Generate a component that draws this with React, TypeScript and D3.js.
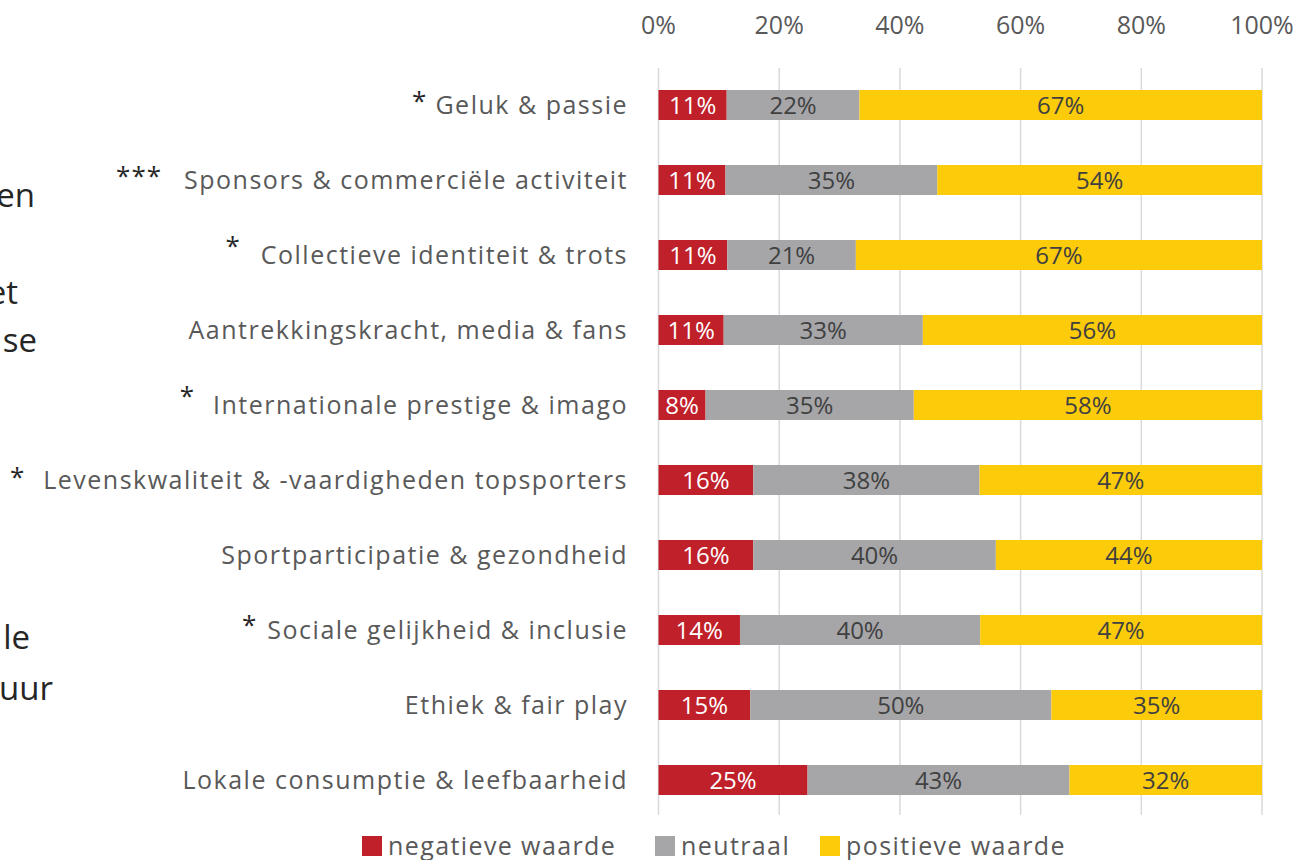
import { useEffect, useRef } from 'react';
import * as d3 from 'd3';

const categories = [
  'Geluk & passie',
  'Sponsors & commerciële activiteit',
  'Collectieve identiteit & trots',
  'Aantrekkingskracht, media & fans',
  'Internationale prestige & imago',
  'Levenskwaliteit & -vaardigheden topsporters',
  'Sportparticipatie & gezondheid',
  'Sociale gelijkheid & inclusie',
  'Ethiek & fair play',
  'Lokale consumptie & leefbaarheid',
];
const significance = ['*', '***', '*', '', '*', '*', '', '*', '', ''];
const negative = [11.3, 11.1, 11.4, 10.8, 7.8, 15.7, 15.7, 13.5, 15.2, 24.7];
const neutral = [22.0, 35.1, 21.3, 33.0, 34.5, 37.5, 40.2, 39.8, 49.9, 43.4];
const positive = [66.7, 53.8, 67.3, 56.2, 57.7, 46.8, 44.1, 46.7, 34.9, 31.9];
const seriesNames = ['negatieve waarde', 'neutraal', 'positieve waarde'];
const seriesColors = ['#c0202a', '#a6a6a9', '#fccb0a'];
const labelColors = ['#ffffff', '#404040', '#404040'];
const xTicks = [0, 20, 40, 60, 80, 100];
// cut-off words of a text panel on the left of the slide
const sideWords = [
  { text: 'en', x: 35, y: 195 },
  { text: 'et', x: 18, y: 292 },
  { text: 'se', x: 37, y: 340 },
  { text: 'le', x: 30, y: 637 },
  { text: 'uur', x: 53, y: 688 },
];
// asterisk placement (gap to label, raise) as set in the slide
const starGap = [8, 22, 20, 0, 18, 18, 0, 10, 0, 0];
const starRaise = [4, 4, 9, 0, 9, 3, 0, 5, 0, 0];

const W = 1301;
const H = 860;
const FONT = '"Open Sans", "Noto Sans", sans-serif';

export default function App() {
  const svgRef = useRef<SVGSVGElement | null>(null);

  useEffect(() => {
    const svg = d3.select(svgRef.current);
    svg.selectAll('*').remove();

    const x = d3.scaleLinear().domain([0, 100]).range([658.5, 1262]);
    const y = d3.scaleBand<string>()
      .domain(categories)
      .range([67.5, 817.5])
      .paddingInner(0.6)
      .paddingOuter(0.3);
    const cy = (c: string) => y(c)! + y.bandwidth() / 2;

    const rows = categories.map((c, i) => ({
      category: c,
      values: [negative[i], neutral[i], positive[i]],
    }));

    // grid
    svg.append('g')
      .selectAll('line')
      .data(xTicks)
      .enter()
      .append('line')
      .attr('x1', d => x(d))
      .attr('x2', d => x(d))
      .attr('y1', 68)
      .attr('y2', 815)
      .attr('stroke', '#d9d9d9')
      .attr('stroke-width', 1.5);

    // top axis labels
    svg.append('g')
      .selectAll('text')
      .data(xTicks)
      .enter()
      .append('text')
      .attr('x', d => x(d))
      .attr('y', 25)
      .attr('dy', '0.35em')
      .attr('text-anchor', 'middle')
      .attr('fill', '#595959')
      .style('font-size', '25px')
      .text(d => `${d}%`);

    // bars
    rows.forEach(row => {
      let acc = 0;
      const g = svg.append('g');
      row.values.forEach((v, si) => {
        const x0 = x(acc);
        const x1 = x(acc + v);
        acc += v;
        g.append('rect')
          .attr('x', x0)
          .attr('y', y(row.category)!)
          .attr('width', x1 - x0)
          .attr('height', y.bandwidth())
          .attr('fill', seriesColors[si]);
        g.append('text')
          .attr('x', (x0 + x1) / 2)
          .attr('y', cy(row.category))
          .attr('dy', '0.36em')
          .attr('text-anchor', 'middle')
          .attr('fill', labelColors[si])
          .style('font-size', '24px')
          .text(`${Math.round(v)}%`);
      });
    });

    // category labels
    const labelX = 628;
    svg.append('g')
      .selectAll('text')
      .data(categories)
      .enter()
      .append('text')
      .attr('x', labelX)
      .attr('y', d => cy(d))
      .attr('dy', '0.36em')
      .attr('text-anchor', 'end')
      .attr('fill', '#595959')
      .style('font-size', '25px')
      .style('letter-spacing', '1.5px')
      .text(d => d)
      .each(function (d, i) {
        if (!significance[i]) return;
        const len = (this as SVGTextElement).getComputedTextLength();
        svg.append('text')
          .attr('x', labelX - len - starGap[i])
          .attr('y', cy(d) - starRaise[i])
          .attr('dy', '0.36em')
          .attr('text-anchor', 'end')
          .attr('fill', '#262626')
          .style('font-size', '26px')
          .style('letter-spacing', '1px')
          .text(significance[i]);
      });

    // left side fragments
    svg.append('g')
      .selectAll('text')
      .data(sideWords)
      .enter()
      .append('text')
      .attr('x', d => d.x)
      .attr('y', d => d.y)
      .attr('dy', '0.36em')
      .attr('text-anchor', 'end')
      .attr('fill', '#262626')
      .style('font-size', '33px')
      .text(d => d.text);

    // legend
    const legendX = [362, 655, 820];
    const legend = svg.append('g')
      .selectAll('g')
      .data(seriesNames)
      .enter()
      .append('g')
      .attr('transform', (d, i) => `translate(${legendX[i]},846)`);
    legend.append('rect')
      .attr('x', 0)
      .attr('y', -10)
      .attr('width', 20)
      .attr('height', 20)
      .attr('fill', (d, i) => seriesColors[i]);
    legend.append('text')
      .attr('x', 26)
      .attr('y', 0)
      .attr('dy', '0.36em')
      .attr('fill', '#595959')
      .style('font-size', '25px')
      .style('letter-spacing', '1.4px')
      .text(d => d);
  }, []);

  return (
    <div style={{ position: 'fixed', left: 0, top: 0, background: '#fff' }}>
      <svg ref={svgRef} width={W} height={H} style={{ display: 'block', fontFamily: FONT }} />
    </div>
  );
}
